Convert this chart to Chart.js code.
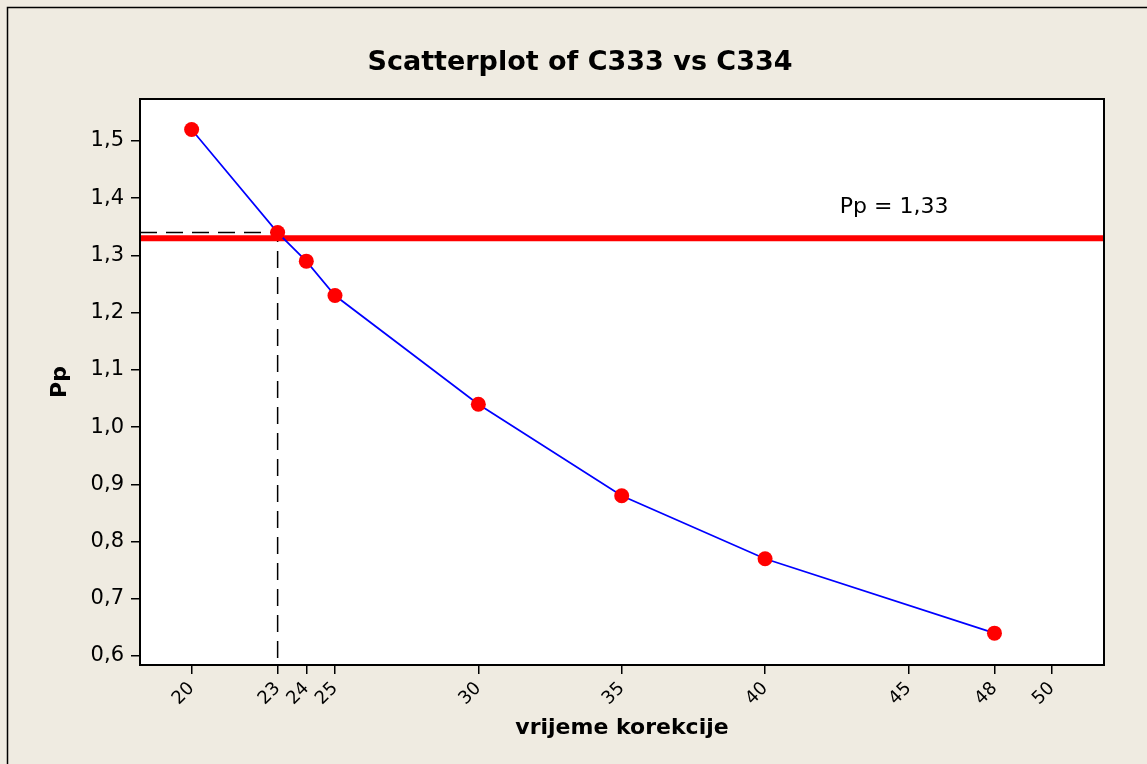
<!DOCTYPE html>
<html lang="hr">
<head>
    <meta charset="UTF-8">
    <title>Scatterplot of C333 vs C334</title>
    <script src="https://cdn.jsdelivr.net/npm/chart.js"></script>
    <style>
        html, body { margin: 0; padding: 0; background: #efebe1; }
        #wrap { width: 1147px; height: 764px; }
    </style>
</head>
<body>
<div id="wrap">
    <canvas id="grafik" width="1147" height="764"></canvas>
</div>
<script>
    // podaci
    const vrijeme = [20, 23, 24, 25, 30, 35, 40, 48];
    const pp = [1.52, 1.34, 1.29, 1.23, 1.04, 0.88, 0.77, 0.64];
    const xTicks = [20, 23, 24, 25, 30, 35, 40, 45, 48, 50];
    const yTicks = [0.6, 0.7, 0.8, 0.9, 1.0, 1.1, 1.2, 1.3, 1.4, 1.5];
    const xRange = [18.2, 51.82];
    const yRange = [0.5843, 1.5734];
    const ppGranica = 1.33;
    const vodilica = [23, 1.34];          // x, y isprekidane linije
    const naslov = 'Scatterplot of C333 vs C334';
    const oznaka = 'Pp = 1,33';
    const oznakaPoz = [44.5, 1.385];

    const FONT = "'DejaVu Sans', Verdana, sans-serif";
    const BEZ = '#efebe1';

    const pozadina = {
        id: 'pozadina',
        beforeDraw(chart) {
            const {ctx, chartArea: a} = chart;
            ctx.save();
            ctx.fillStyle = BEZ;
            ctx.fillRect(0, 0, chart.width, chart.height);
            ctx.strokeStyle = '#000';
            ctx.lineWidth = 1.5;
            ctx.beginPath();
            ctx.moveTo(7.5, chart.height);
            ctx.lineTo(7.5, 7.5);
            ctx.lineTo(chart.width, 7.5);
            ctx.stroke();
            ctx.fillStyle = '#fff';
            ctx.fillRect(a.left, a.top, a.right - a.left, a.bottom - a.top);
            // naslov
            ctx.fillStyle = '#000';
            ctx.font = 'bold 27px ' + FONT;
            ctx.textAlign = 'center';
            ctx.textBaseline = 'middle';
            ctx.fillText(naslov, 580, 63);
            ctx.restore();
        },
        afterDatasetsDraw(chart) {
            const {ctx, chartArea: a, scales} = chart;
            ctx.save();
            ctx.fillStyle = '#000';
            ctx.font = '22px ' + FONT;
            ctx.textAlign = 'center';
            ctx.textBaseline = 'middle';
            ctx.fillText(oznaka, scales.x.getPixelForValue(oznakaPoz[0]), scales.y.getPixelForValue(oznakaPoz[1]));
            ctx.strokeStyle = '#000';
            ctx.lineWidth = 2;
            ctx.strokeRect(a.left, a.top, a.right - a.left, a.bottom - a.top);
            ctx.restore();
        }
    };

    new Chart(document.getElementById('grafik'), {
        type: 'scatter',
        data: {
            datasets: [
                {
                    data: vrijeme.map((v, i) => ({x: v, y: pp[i]})),
                    showLine: true,
                    borderColor: '#0000ff',
                    borderWidth: 1.7,
                    pointRadius: 7.5,
                    pointBackgroundColor: '#ff0000',
                    pointBorderColor: '#ff0000',
                    pointBorderWidth: 0,
                    order: 0
                },
                {
                    data: [{x: xRange[0], y: ppGranica}, {x: xRange[1], y: ppGranica}],
                    showLine: true,
                    borderColor: '#ff0000',
                    borderWidth: 6,
                    pointRadius: 0,
                    order: 1
                },
                {
                    data: [{x: xRange[0], y: vodilica[1]}, {x: vodilica[0], y: vodilica[1]}, {x: vodilica[0], y: yRange[0]}],
                    showLine: true,
                    borderColor: '#000',
                    borderWidth: 1.5,
                    borderDash: [17, 9],
                    pointRadius: 0,
                    order: 2
                }
            ]
        },
        options: {
            responsive: false,
            animation: false,
            devicePixelRatio: 1,
            layout: { padding: { left: 0, right: 43, top: 99, bottom: 0 } },
            plugins: {
                legend: { display: false },
                tooltip: { enabled: false },
                title: { display: false }
            },
            scales: {
                x: {
                    type: 'linear',
                    min: xRange[0],
                    max: xRange[1],
                    afterBuildTicks: s => { s.ticks = xTicks.map(v => ({value: v})); },
                    afterFit: s => { s.height = 99; },
                    ticks: {
                        autoSkip: false,
                        minRotation: 45,
                        maxRotation: 45,
                        color: '#000',
                        padding: 4,
                        font: { family: FONT, size: 18 }
                    },
                    grid: { drawOnChartArea: false, tickLength: 9, color: '#000', lineWidth: 1.5 },
                    border: { color: '#000', width: 2 },
                    title: {
                        display: true,
                        text: 'vrijeme korekcije',
                        color: '#000',
                        font: { family: FONT, size: 22, weight: 'bold' },
                        padding: { bottom: 23 }
                    }
                },
                y: {
                    type: 'linear',
                    min: yRange[0],
                    max: yRange[1],
                    afterBuildTicks: s => { s.ticks = yTicks.map(v => ({value: v})); },
                    afterFit: s => { s.width = 140; },
                    ticks: {
                        color: '#000',
                        padding: 7,
                        font: { family: FONT, size: 21 },
                        callback: v => v.toFixed(1).replace('.', ',')
                    },
                    grid: { drawOnChartArea: false, tickLength: 9, color: '#000', lineWidth: 1.5 },
                    border: { color: '#000', width: 2 },
                    title: {
                        display: true,
                        text: 'Pp',
                        color: '#000',
                        font: { family: FONT, size: 22, weight: 'bold' },
                        padding: { top: 47 }
                    }
                }
            }
        },
        plugins: [pozadina]
    });
</script>
</body>
</html>
